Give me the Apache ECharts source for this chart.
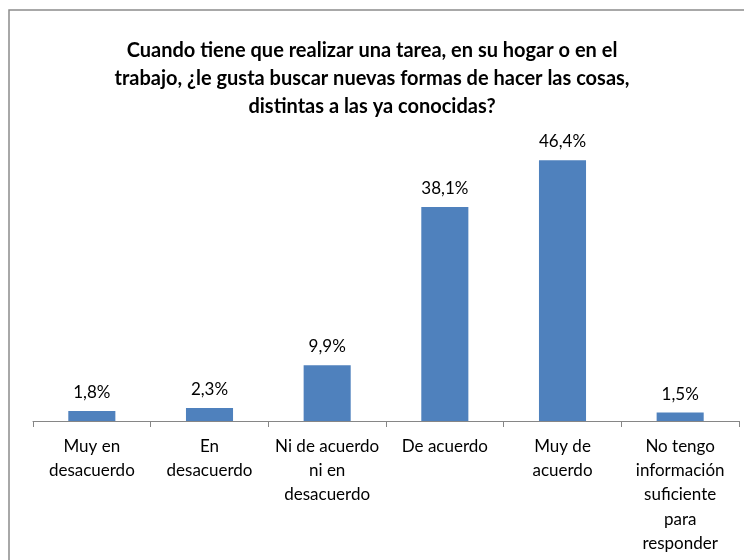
<!DOCTYPE html>
<html>
<head>
<meta charset="utf-8">
<script src="https://cdn.jsdelivr.net/npm/echarts@6/dist/echarts.min.js"></script>
<style>
  html, body { margin: 0; padding: 0; background: #fff; }
  #chart { width: 744px; height: 560px; }
</style>
</head>
<body>
<div id="chart"></div>
<script>
const categories = [
  'Muy en\ndesacuerdo',
  'En\ndesacuerdo',
  'Ni de acuerdo\nni en\ndesacuerdo',
  'De acuerdo',
  'Muy de\nacuerdo',
  'No tengo\ninformación\nsuficiente\npara\nresponder'
]
const values = [1.8, 2.3, 9.9, 38.1, 46.4, 1.5]
const titleText = 'Cuando tiene que realizar una tarea, en su hogar o en el\ntrabajo, ¿le gusta buscar nuevas formas de hacer las cosas,\ndistintas a las ya conocidas?'

const font = 'Lato, "Open Sans", sans-serif'
const chart = echarts.init(document.getElementById('chart'))
const option = {
  animation: false,
  backgroundColor: '#fff',
  // marco del gráfico (solo se ven arriba e izquierda)
  graphic: [{
    type: 'rect',
    shape: { x: 9, y: 10, width: 800, height: 600 },
    style: { fill: 'none', stroke: '#8c8c8c', lineWidth: 1.5 },
    silent: true
  }],
  title: {
    text: titleText,
    left: 'center',
    top: 32,
    textStyle: {
      fontFamily: font,
      fontSize: 20,
      fontWeight: 'bold',
      color: '#000',
      lineHeight: 28
    }
  },
  grid: { left: 33, right: 5, top: 140, bottom: 139 },
  xAxis: {
    type: 'category',
    data: categories,
    axisLine: { lineStyle: { color: '#868686', width: 1 } },
    axisTick: { show: true, alignWithLabel: false, length: 6, lineStyle: { color: '#868686' } },
    axisLabel: {
      interval: 0,
      margin: 13,
      fontFamily: font,
      fontSize: 17,
      lineHeight: 24.3,
      color: '#000'
    }
  },
  yAxis: {
    type: 'value',
    min: 0,
    max: 50,
    show: false
  },
  series: [{
    type: 'bar',
    data: values,
    barWidth: '40%',
    itemStyle: { color: '#4f81bd' },
    label: {
      show: true,
      position: 'top',
      distance: 10,
      fontFamily: font,
      fontSize: 17,
      color: '#000',
      formatter: p => p.value.toFixed(1).replace('.', ',') + '%'
    }
  }]
}
chart.setOption(option)
</script>
</body>
</html>
